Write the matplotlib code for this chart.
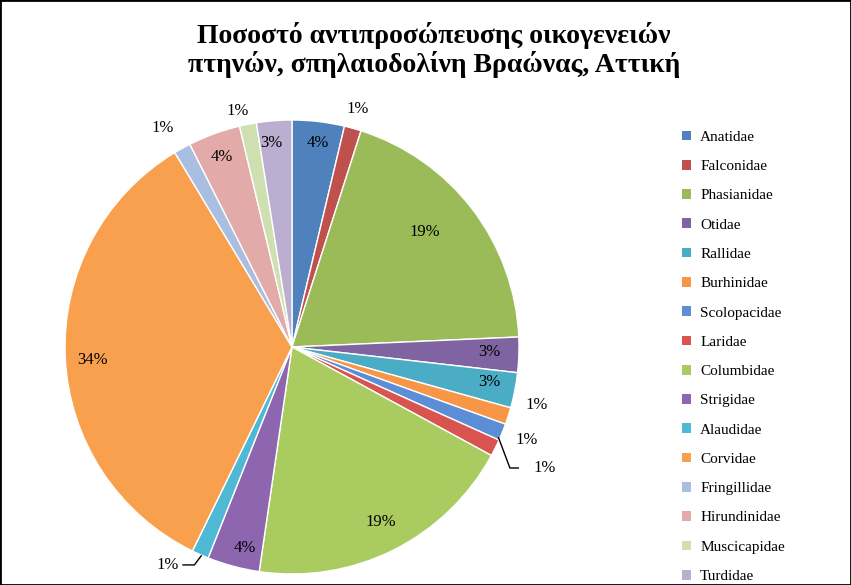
import matplotlib
matplotlib.use("Agg")
import matplotlib.pyplot as plt

plt.rcParams["font.family"] = "Liberation Serif"

families = ["Anatidae", "Falconidae", "Phasianidae", "Otidae", "Rallidae",
            "Burhinidae", "Scolopacidae", "Laridae", "Columbidae", "Strigidae",
            "Alaudidae", "Corvidae", "Fringillidae", "Hirundinidae",
            "Muscicapidae", "Turdidae"]
shares = [3.7, 1.2, 19.3, 2.5, 2.5, 1.2, 1.2, 1.2, 19.3, 3.7, 1.2, 34.0,
          1.2, 3.7, 1.2, 2.5]
labels = ["4%", "1%", "19%", "3%", "3%", "1%", "1%", "1%", "19%", "4%",
          "1%", "34%", "1%", "4%", "1%", "3%"]
colors = ["#4F81BD", "#C0504D", "#9BBB59", "#8064A2", "#4BACC6", "#F79646",
          "#5B8ED6", "#D9534F", "#A9CB5F", "#8E66B0", "#4FB8D4", "#F9A04E",
          "#A9BEE0", "#E2AAA8", "#CEDFB0", "#BBAED0"]
# label positions in units of the pie radius
label_pos = [(0.115, 0.9), (0.29, 1.05), (0.585, 0.507), (0.87, -0.02),
             (0.87, -0.154), (1.08, -0.255), (1.035, -0.41), (1.115, -0.533),
             (0.39, -0.77), (-0.207, -0.885), (-0.546, -0.96), (-0.88, -0.057),
             (-0.57, 0.965), (-0.31, 0.837), (-0.24, 1.04), (-0.09, 0.9)]

fig = plt.figure(figsize=(8.51, 5.85), dpi=100)
fig.patches.append(plt.Rectangle((0, 0), 1, 1, transform=fig.transFigure,
                                 fill=False, ec="black", lw=2))
ax = fig.add_axes([65 / 851, 11 / 585, 454 / 851, 454 / 585])
wedges, _ = ax.pie(shares, colors=colors, startangle=90, counterclock=False,
                   wedgeprops=dict(ec="white", lw=1))
ax.set_xlim(-1, 1)
ax.set_ylim(-1, 1)
ax.set_aspect("equal")

for lab, (x, y) in zip(labels, label_pos):
    ax.text(x, y, lab, ha="center", va="center", fontsize=12)

# leader lines for the small slices
ax.plot([0.91, 0.96, 1.04], [-0.4, -0.533, -0.533], color="black", lw=1)
ax.plot([-0.4, -0.43, -0.48], [-0.92, -0.96, -0.96], color="black", lw=1)

fig.text(0.51, 0.915, "Ποσοστό αντιπροσώπευσης οικογενειών\nπτηνών, σπηλαιοδολίνη Βραώνας, Αττική",
         ha="center", va="center", fontsize=20, fontweight="bold", linespacing=1.1)

handles = [plt.Rectangle((0, 0), 1, 1, fc=c) for c in colors]
fig.legend(handles, families, loc="center left", bbox_to_anchor=(0.785, 0.39),
           frameon=False, fontsize=11, handlelength=0.6, handleheight=0.6,
           labelspacing=1.05, handletextpad=0.6)

fig.savefig("out.png", dpi=100)
